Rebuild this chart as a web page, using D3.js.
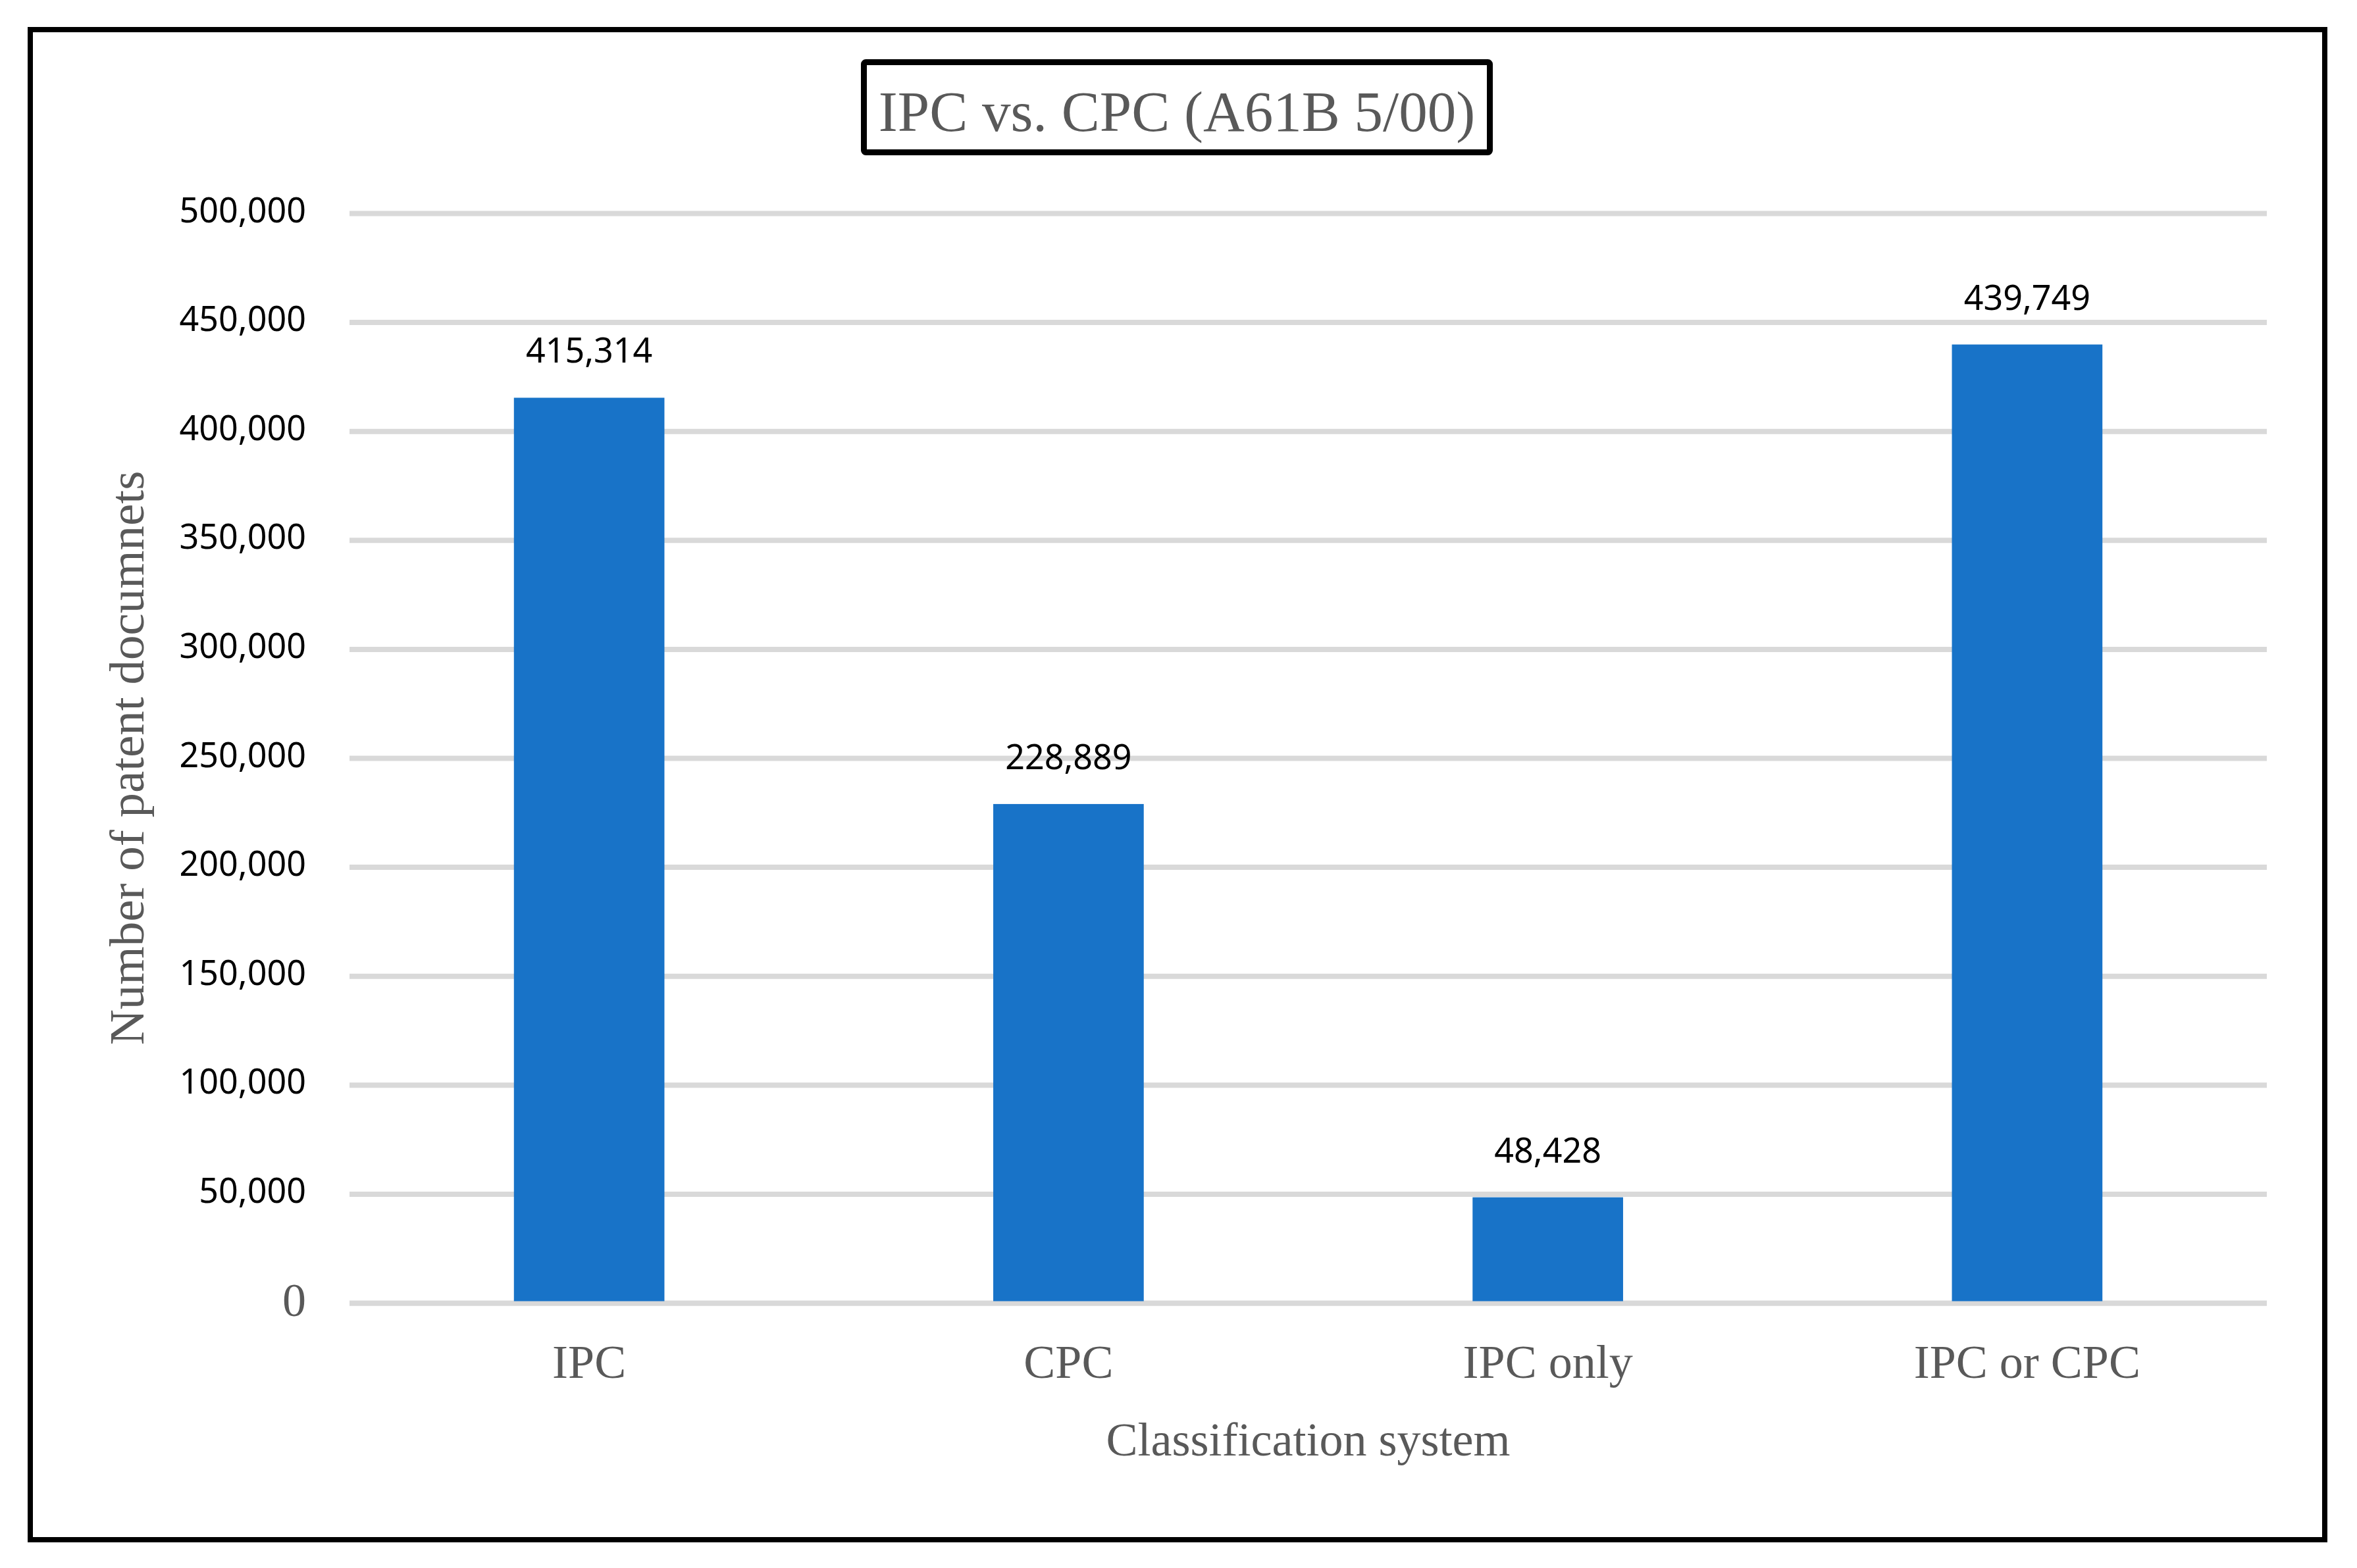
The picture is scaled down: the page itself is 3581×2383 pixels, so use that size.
<!DOCTYPE html>
<html>
<head>
<meta charset="utf-8">
<script src="https://cdn.jsdelivr.net/npm/d3@7"></script>
<style>
  body { margin: 0; background: #fff; }
  svg { display: block; }
</style>
</head>
<body>
<svg width="3581" height="2383"></svg>
<script>
// chart values
const categories = ["IPC", "CPC", "IPC only", "IPC or CPC"];
const counts = [415314, 228889, 48428, 439749];
const yTicks = [0, 50000, 100000, 150000, 200000, 250000, 300000, 350000, 400000, 450000, 500000];

const titleText = "IPC vs. CPC (A61B 5/00)";
const xTitle = "Classification system";
const yTitle = "Number of patent documnets";

const serif = "'Liberation Serif', 'Times New Roman', serif";
const sans = "'Noto Sans', 'Open Sans', sans-serif";
const grey = "#595959";
const barColor = "#1873c8";

let svg = d3.select("svg");

// plot area
let plotLeft = 531, plotRight = 3444, plotTop = 324, plotBottom = 1980;

let x = d3.scaleBand()
    .domain(categories)
    .range([plotLeft, plotRight])
    .paddingInner(0.686)
    .paddingOuter(0.343);

let y = d3.scaleLinear()
    .domain([0, 500000])
    .range([plotBottom, plotTop]);

// outer frame
svg.append("rect")
    .attr("x", 46).attr("y", 45)
    .attr("width", 3532 - 46).attr("height", 2340 - 45)
    .attr("fill", "none")
    .attr("stroke", "#000")
    .attr("stroke-width", 8);

// title box
svg.append("rect")
    .attr("x", 1312.5).attr("y", 94.5)
    .attr("width", 951).attr("height", 137)
    .attr("rx", 3)
    .attr("fill", "#fff")
    .attr("stroke", "#000")
    .attr("stroke-width", 9);

svg.append("text")
    .attr("x", 1788).attr("y", 199)
    .attr("text-anchor", "middle")
    .attr("font-family", serif)
    .attr("font-size", 87)
    .attr("fill", grey)
    .text(titleText);

// y axis + gridlines
let yAxis = svg.append("g")
    .attr("transform", "translate(" + plotLeft + ",0)")
    .call(d3.axisLeft(y)
        .tickValues(yTicks)
        .tickSizeInner(-(plotRight - plotLeft))
        .tickSizeOuter(0)
        .tickPadding(66)
        .tickFormat(d3.format(",")));

yAxis.select(".domain").remove();
yAxis.selectAll(".tick line")
    .attr("stroke", "#d9d9d9")
    .attr("stroke-width", 8);
yAxis.selectAll(".tick text")
    .attr("font-family", sans)
    .attr("font-size", 52)
    .attr("fill", "#000")
    .attr("dy", "0.25em");
// the zero label is set in the serif face in the original
yAxis.selectAll(".tick text")
    .filter(d => d === 0)
    .attr("font-family", serif)
    .attr("font-size", 72)
    .attr("fill", grey)
    .attr("dy", "0.27em");

// bars
svg.append("g")
    .selectAll("rect")
    .data(counts)
    .enter()
    .append("rect")
    .attr("x", (d, i) => x(categories[i]))
    .attr("y", d => y(d))
    .attr("width", x.bandwidth())
    .attr("height", d => y(0) - y(d))
    .attr("fill", barColor);

// zero line on top of the bars
svg.append("line")
    .attr("x1", plotLeft).attr("x2", plotRight)
    .attr("y1", y(0) + 1).attr("y2", y(0) + 1)
    .attr("stroke", "#d9d9d9")
    .attr("stroke-width", 7);

// value labels
svg.append("g")
    .selectAll("text")
    .data(counts)
    .enter()
    .append("text")
    .attr("x", (d, i) => x(categories[i]) + x.bandwidth() / 2)
    .attr("y", d => y(d) - 53)
    .attr("text-anchor", "middle")
    .attr("font-family", sans)
    .attr("font-size", 52)
    .attr("fill", "#000")
    .text(d => d3.format(",")(d));

// x axis labels
let xAxis = svg.append("g")
    .attr("transform", "translate(0," + plotBottom + ")")
    .call(d3.axisBottom(x).tickSize(0).tickPadding(0));

xAxis.select(".domain").remove();
xAxis.selectAll(".tick text")
    .attr("y", 114)
    .attr("dy", 0)
    .attr("font-family", serif)
    .attr("font-size", 72)
    .attr("fill", grey);

// axis titles
svg.append("text")
    .attr("x", (plotLeft + plotRight) / 2)
    .attr("y", 2212)
    .attr("text-anchor", "middle")
    .attr("font-family", serif)
    .attr("font-size", 72)
    .attr("fill", grey)
    .text(xTitle);

svg.append("text")
    .attr("transform", "translate(218," + ((plotTop + plotBottom) / 2) + ") rotate(-90)")
    .attr("text-anchor", "middle")
    .attr("font-family", serif)
    .attr("font-size", 75)
    .attr("fill", grey)
    .text(yTitle);
</script>
</body>
</html>
